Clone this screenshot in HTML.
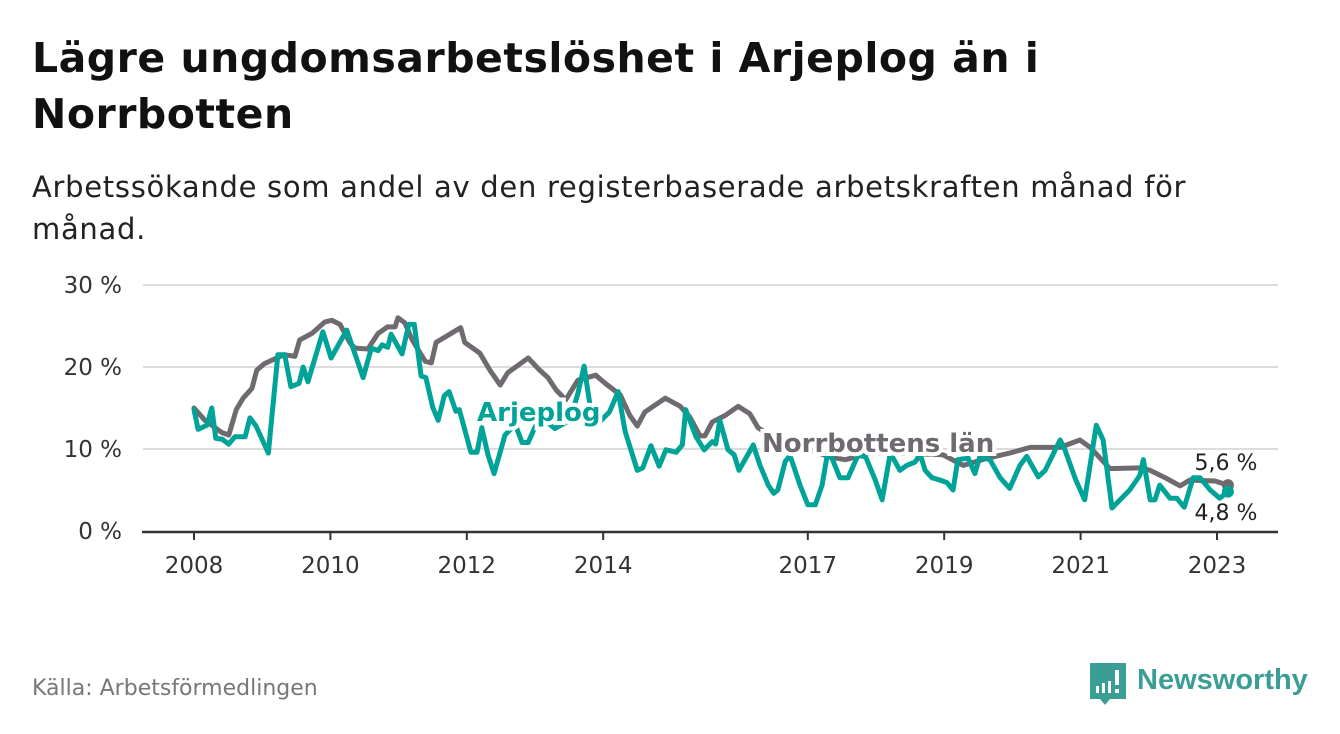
<!DOCTYPE html>
<html><head><meta charset="utf-8"><style>
body{margin:0;width:1340px;height:734px;background:#fff;font-family:"DejaVu Sans","Liberation Sans",sans-serif;overflow:hidden;position:relative}
.t{position:absolute;left:32px;top:30px;font-size:41px;letter-spacing:0.5px;font-weight:bold;color:#111;line-height:56px;margin:0}
.s{position:absolute;left:32px;top:166px;font-size:29px;letter-spacing:0.7px;color:#222;line-height:42px}
.src{position:absolute;left:32px;top:676px;font-size:22px;color:#777}
svg{position:absolute;left:0;top:0}
</style></head><body>
<h1 class="t">Lägre ungdomsarbetslöshet i Arjeplog än i<br>Norrbotten</h1>
<div class="s">Arbetssökande som andel av den registerbaserade arbetskraften månad för<br>månad.</div>
<div class="src">Källa: Arbetsförmedlingen</div>
<svg id="chart" width="1340" height="734" font-family="DejaVu Sans, Liberation Sans, sans-serif"></svg>
<script>
const yTicks=[0,10,20,30];
const yTickLabels=["0 %","10 %","20 %","30 %"];
const xTicks=[2008,2010,2012,2014,2017,2019,2021,2023];
const norrT=[0,0.16,0.41,0.51,0.62,0.72,0.85,0.92,1.03,1.16,1.32,1.48,1.55,1.73,1.92,2.02,2.14,2.29,2.36,2.55,2.70,2.84,2.95,2.99,3.09,3.20,3.39,3.48,3.55,3.83,3.91,3.97,4.19,4.34,4.49,4.60,4.90,5.07,5.19,5.31,5.45,5.63,5.89,6.03,6.25,6.39,6.50,6.61,6.91,7.13,7.27,7.42,7.49,7.60,7.79,7.98,8.15,8.27,8.59,8.99,9.33,9.55,9.91,10.35,10.98,11.28,11.60,11.96,12.26,12.70,12.99,13.14,13.43,13.87,14.02,14.24,14.46,14.60,14.97,15.16];
const norrV=[15.0,13.5,12,11.7,14.8,16.2,17.4,19.6,20.4,20.9,21.5,21.3,23.3,24.1,25.5,25.7,25.2,22.9,22.3,22.2,24.1,24.9,24.9,26.0,25.4,23.3,20.7,20.5,23.0,24.4,24.8,23.0,21.7,19.6,17.8,19.3,21.1,19.6,18.7,17.2,16.0,18.4,19.0,18.0,16.6,14.1,12.8,14.5,16.2,15.2,13.9,11.6,11.6,13.3,14.1,15.2,14.3,12.6,10.8,10.0,9.0,8.7,9.5,9.5,9.3,8.0,8.8,9.5,10.2,10.2,11.1,10.2,7.6,7.7,7.4,6.5,5.5,6.2,6.1,5.6];
const arjT=[0,0.06,0.19,0.26,0.32,0.41,0.51,0.60,0.75,0.82,0.91,1.09,1.23,1.33,1.42,1.54,1.60,1.67,1.89,2.01,2.24,2.48,2.60,2.70,2.76,2.84,2.89,3.05,3.15,3.23,3.33,3.40,3.50,3.58,3.67,3.74,3.84,3.89,4.06,4.15,4.22,4.31,4.40,4.56,4.71,4.81,4.90,5.07,5.29,5.51,5.63,5.72,5.84,5.97,6.09,6.22,6.32,6.50,6.58,6.70,6.82,6.92,7.07,7.16,7.21,7.36,7.48,7.60,7.65,7.71,7.83,7.92,7.99,8.12,8.20,8.30,8.42,8.50,8.56,8.67,8.74,8.89,9.00,9.11,9.21,9.30,9.47,9.59,9.74,9.85,9.99,10.09,10.21,10.35,10.45,10.57,10.65,10.72,10.82,10.94,11.04,11.13,11.20,11.35,11.45,11.52,11.67,11.82,11.96,12.11,12.21,12.38,12.48,12.70,12.77,12.93,13.06,13.23,13.33,13.46,13.72,13.87,13.92,14.02,14.09,14.16,14.31,14.41,14.52,14.65,14.75,14.90,15.04,15.16];
const arjV=[14.8,12.4,12.9,15.0,11.3,11.2,10.6,11.5,11.5,13.8,12.8,9.5,21.5,21.5,17.6,18.0,20.0,18.2,24.3,21.1,24.5,18.7,22.3,22.0,22.7,22.4,24.0,21.6,25.2,25.2,18.9,18.7,15.1,13.5,16.5,17.0,14.6,14.8,9.6,9.6,12.6,9.3,7.0,11.7,13.0,10.8,10.8,14.0,12.5,13.5,16.8,20.1,13.5,13.5,14.5,17.0,12.2,7.4,7.7,10.4,7.9,9.9,9.6,10.5,14.8,11.5,9.9,10.9,10.6,13.5,9.9,9.3,7.4,9.3,10.5,8.0,5.6,4.6,5.0,8.5,9.2,5.5,3.2,3.2,5.6,10.0,6.5,6.5,9.3,9.0,6.2,3.8,9.5,7.4,8.0,8.4,9.3,7.4,6.5,6.2,5.9,5.0,8.7,8.9,7.0,9.0,8.7,6.5,5.2,8.0,9.1,6.6,7.4,11.1,9.9,6.2,3.8,12.9,11.1,2.8,5.0,6.8,8.7,3.8,3.8,5.6,4.0,4.0,2.9,6.5,6.5,5.0,4.0,4.8];
const NS="http://www.w3.org/2000/svg";
const svg=document.getElementById('chart');
const X=t=>194+68.2*t, XY=y=>194+68.2*(y-2008), Y=v=>531-8.2*v;
function mk(tag,attrs,txt){const e=document.createElementNS(NS,tag);for(const k in attrs)e.setAttribute(k,attrs[k]);if(txt!==undefined)e.textContent=txt;svg.appendChild(e);return e;}
yTicks.forEach((v,i)=>{
 if(v>0){const g=mk('line',{x1:143,x2:1278,y1:Y(v),y2:Y(v),stroke:'#dcdcdc','stroke-width':2});
 
 }
 const t=mk('text',{x:122,y:Y(v)+8,'text-anchor':'end','font-size':23,fill:'#333'},yTickLabels[i]);
 
 
});
const ax=mk('line',{x1:142,x2:1278,y1:532,y2:532,stroke:'#333','stroke-width':2.5});


xTicks.forEach(y=>{
 const tk=mk('line',{x1:XY(y),x2:XY(y),y1:532,y2:540,stroke:'#333','stroke-width':2});
 
 
 const t=mk('text',{x:XY(y),y:573,'text-anchor':'middle','font-size':23,fill:'#333'},String(y));
 
 
});
function line(ts,vs,col,name){
 const p=mk('polyline',{points:ts.map((t,i)=>X(t)+','+Y(vs[i])).join(' '),fill:'none',stroke:col,'stroke-width':5,'stroke-linejoin':'round','stroke-linecap':'round'});
 
 
 return p;
}
line(norrT,norrV,'#6e6a70','norrbotten-line');
line(arjT,arjV,'#00a398','arjeplog-line');
const d1=mk('circle',{cx:X(norrT[norrT.length-1]),cy:Y(norrV[norrV.length-1]),r:6,fill:'#6e6a70'});


const d2=mk('circle',{cx:X(arjT[arjT.length-1]),cy:Y(arjV[arjV.length-1]),r:6,fill:'#00a398'});


const l1=mk('text',{x:1226,y:470,'text-anchor':'middle','font-size':22,fill:'#222',stroke:'#fff','stroke-width':5,'paint-order':'stroke'},norrV[norrV.length-1].toFixed(1).replace('.',',')+' %');


const l2=mk('text',{x:1226,y:520,'text-anchor':'middle','font-size':22,fill:'#222',stroke:'#fff','stroke-width':5,'paint-order':'stroke'},arjV[arjV.length-1].toFixed(1).replace('.',',')+' %');


const a=mk('text',{x:477,y:421,'font-size':26,'font-weight':'bold',fill:'#00a398',stroke:'#fff','stroke-width':8,'paint-order':'stroke'},'Arjeplog');


const n=mk('text',{x:762,y:452,'font-size':26,'font-weight':'bold',fill:'#6e6a70',stroke:'#fff','stroke-width':8,'paint-order':'stroke'},'Norrbottens län');


</script>
<svg width="1340" height="734">
<path d="M1090 663h36v36h-16l-5 6l-5-6h-10z" fill="#3a9e95"/>
<rect x="1096" y="686" width="3" height="7" fill="#fff"/><rect x="1102" y="683" width="3" height="10" fill="#fff"/><rect x="1108" y="681" width="3" height="12" fill="#fff"/><rect x="1115" y="670" width="4" height="15" fill="#fff"/><rect x="1115" y="689" width="4" height="4" fill="#fff"/>
<text x="1137" y="689" font-size="29" font-weight="bold" fill="#3a9e95" font-family="Liberation Sans, sans-serif">Newsworthy</text>
</svg>
</body></html>
